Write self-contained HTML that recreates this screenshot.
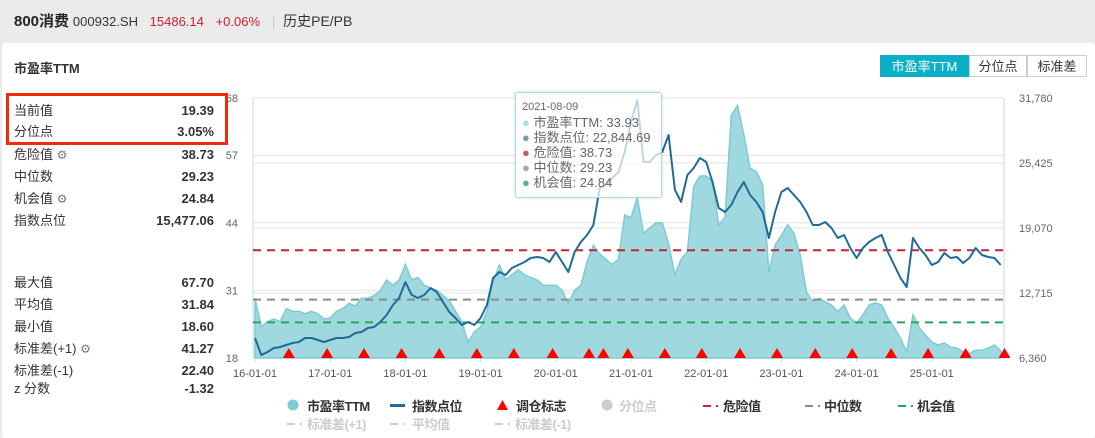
<!DOCTYPE html>
<html><head><meta charset="utf-8">
<style>
body{margin:0;width:1095px;height:438px;background:#ebebeb;font-family:"Liberation Sans","Noto Sans CJK SC",sans-serif;overflow:hidden;position:relative}
.hdr{position:absolute;left:14px;top:10px;font-size:14px;color:#333;white-space:nowrap}
.card{position:absolute;left:2px;top:43px;width:1093px;height:395px;background:#fff;border-radius:3px}
.row{position:absolute;left:14px;width:200px;height:18px;line-height:18px;font-size:13px;color:#333;display:flex;justify-content:space-between;align-items:center}
.row b{font-weight:bold}
.btn{position:absolute;top:55px;height:22px;line-height:22px;font-size:13px;text-align:center;border:1px solid #ccc;color:#333;box-sizing:border-box}
</style></head><body>
<div class="hdr"><b style="font-size:15px;color:#222">800消费</b> <span style="font-size:13px">000932.SH</span>&nbsp;&nbsp;&nbsp;<span style="color:#c7202a;font-size:13px">15486.14</span>&nbsp;&nbsp;&nbsp;<span style="color:#c7202a;font-size:13px">+0.06%</span>&nbsp;&nbsp;&nbsp;<span style="color:#ccc">|</span>&nbsp;&nbsp;<span>历史PE/PB</span></div>
<div class="card"></div>
<div style="position:absolute;left:14px;top:58px;font-size:13px;font-weight:bold;color:#333">市盈率TTM</div>
<div class="btn" style="left:880px;width:89px;background:#0ab0c8;border-color:#0ab0c8;color:#fff">市盈率TTM</div>
<div class="btn" style="left:969px;width:58px">分位点</div>
<div class="btn" style="left:1027px;width:60px">标准差</div>
<svg id="ch" width="1095" height="438" style="position:absolute;left:0;top:0"></svg>
<div style="position:absolute;left:6px;top:93px;width:216px;height:46px;border:3px solid #f22a0a;background:#fff"></div>
<div id="stats"></div>
<div style="position:absolute;left:515px;top:92px;width:147px;height:106px;background:rgba(255,255,255,0.72);border:1px solid #a8dde3;border-radius:3px;box-shadow:0 0 3px rgba(0,0,0,.15);font-size:13px;color:#666;line-height:15px;padding:7px 0 0 6px;box-sizing:border-box;white-space:nowrap">
<div style="font-size:11px">2021-08-09</div>
<div><span style="color:#a8dde3">●</span> 市盈率TTM: 33.93</div>
<div><span style="color:#6e9bbf">●</span> 指数点位: 22,844.69</div>
<div><span style="color:#d35a5a">●</span> 危险值: 38.73</div>
<div><span style="color:#aaa">●</span> 中位数: 29.23</div>
<div><span style="color:#4db88a">●</span> 机会值: 24.84</div>
</div>
<script>
const peValues=[29.5,24,25,25.5,25,27.5,27,27,26.5,27,26.5,25.5,
25.7,27,27.5,28.5,28,29.5,29.5,30,31,33,32,33,
36,33,33.5,32,31.5,31,30,29,27,25,21,23,
24,27,32.6,35.9,33,34,35,34,33.5,33,32,32,
32,31,28.5,31,32,36.5,39.7,38,37,36,37,45.5,
45,48.8,42,43,44,44,40,34,37,38.4,51,53,
53,52,43.6,45,64.7,66.6,61,54.5,53.8,51.3,34.5,39.7,
41.6,43.6,42,37.8,30.7,28.8,29.5,28.8,28.2,26.9,28.2,25.7,
24.7,26.3,28.2,28.6,28.2,25.7,23.8,21.8,19.2,26.3,23.8,22.4,
21.1,20.5,20.9,20.1,19.9,19.2,18.9,19.5,19.5,19.9,20.5,19.4];
const indexValues=[8315,6650,6950,7340,7430,7630,7825,7925,8315,8315,8120,7925,
8120,8315,8315,8410,8800,8900,9290,9390,9880,10560,11540,12225,
13790,12520,12225,12520,13200,12810,11835,10860,10270,9585,9880,9585,
10270,11540,14180,14770,14475,15160,15450,15745,16140,16235,16140,15745,
16725,15745,14770,16725,17700,18385,19360,22980,23270,23960,24545,26500,
29430,31585,25525,25525,26210,26500,28160,22800,21620,24250,24935,25915,
25525,23570,21025,20635,21320,22590,23570,22295,21620,20635,18090,20635,
22590,22980,22295,21620,20635,19360,19360,19655,19070,18090,18385,17115,
16140,17115,17700,18090,18385,16725,15450,14180,13300,18090,17115,16430,
15450,15745,16630,16140,16235,15650,16140,17115,16430,16235,16140,15450];
const rebalanceMonths=[5.4,11.5,17.4,23.4,29.4,35.4,41.3,47.5,53.3,55.6,59.5,65.4,71.3,77.4,83.3,89.4,95.3,101.5,107.4,113.4,119.6];
const leftTicks=[18,31,44,57,68];
const rightTicks=[6360,12715,19070,25425,31780];
const xTickLabels=['16-01-01','17-01-01','18-01-01','19-01-01','20-01-01','21-01-01','22-01-01','23-01-01','24-01-01','25-01-01'];
const danger=38.73, median=29.23, chance=24.84;
const stats=[['当前值','19.39',111],['分位点','3.05%',132],['危险值','38.73',155,1],['中位数','29.23',177],['机会值','24.84',199,1],['指数点位','15,477.06',221],
['最大值','67.70',283],['平均值','31.84',305],['最小值','18.60',327],['标准差(+1)','41.27',349,1],['标准差(-1)','22.40',371],['z 分数','-1.32',389]];

const X0=253,X1=1004,Y0=358,Y1=98;
const xm=m=>255+m*75.2/12;
const yl=v=>Y0-(v-18)/(68-18)*(Y0-Y1);
const yr=v=>Y0-(v-6360)/(31780-6360)*(Y0-Y1);
const svg=document.getElementById('ch');const NS='http://www.w3.org/2000/svg';
function mk(t,a,p){const e=document.createElementNS(NS,t);for(const k in a)e.setAttribute(k,a[k]);(p||svg).appendChild(e);return e;}
leftTicks.forEach(t=>{const g=mk('line',{x1:X0,x2:X1,y1:yl(t),y2:yl(t),stroke:'#e3e3e3'});


const tx=mk('text',{x:238,y:yl(t)+4,'text-anchor':'end','font-size':11,fill:'#666'});tx.textContent=t;

});
rightTicks.forEach(t=>{if(t>6360&&t<31780)mk('line',{x1:X0,x2:X1,y1:yr(t),y2:yr(t),stroke:'#e3e3e3'});
const tx=mk('text',{x:1019,y:yr(t)+4,'font-size':11,fill:'#666'});tx.textContent=t.toLocaleString('en-US');

});
mk('line',{x1:X0,x2:X0,y1:Y1,y2:Y0,stroke:'#c5d8e8'});mk('line',{x1:X1,x2:X1,y1:Y1,y2:Y0,stroke:'#c5d8e8'});
xTickLabels.forEach((l,i)=>{const x=xm(i*12);mk('line',{x1:x,x2:x,y1:Y0,y2:Y0+4,stroke:'#c5d8e8'});
const tx=mk('text',{x:x,y:377,'text-anchor':'middle','font-size':11,fill:'#555'});tx.textContent=l;

});
let d='M'+xm(0)+','+Y0;peValues.forEach((v,i)=>d+='L'+xm(i).toFixed(1)+','+yl(v).toFixed(1));d+='L'+xm(peValues.length-1)+','+Y0+'Z';
const ar=mk('path',{d:d,fill:'#9fd8de',stroke:'#7ecbd3','stroke-width':1.5});


[[danger,'#c8242c','danger-line'],[median,'#8a8a94','median-line'],[chance,'#27a660','chance-line']].forEach(r=>{
const l=mk('line',{x1:X0,x2:X1,y1:yl(r[0]),y2:yl(r[0]),stroke:r[1],'stroke-width':2,'stroke-dasharray':'8,6'});

});
let p='';indexValues.forEach((v,i)=>p+=(i?'L':'M')+xm(i).toFixed(1)+','+yr(v).toFixed(1));
const il=mk('path',{d:p,fill:'none',stroke:'#1f6a97','stroke-width':2,'stroke-linejoin':'round'});


rebalanceMonths.forEach(m=>{const x=xm(m);const t=mk('polygon',{points:`${x-6},${Y0} ${x+6},${Y0} ${x},${Y0-10}`,fill:'#f00'});

});
// legend: [iconX(left), y, shape, color, text, textColor, textX]
const lg=[[288,406,'circle','#7ecbd3','市盈率TTM','#333',307],[390,406,'line','#1f6a97','指数点位','#333',412],[497,406,'tri','#f00','调仓标志','#333',516],
[602,406,'circle','#ccc','分位点','#ccc',619],[703,406,'dash','#c8242c','危险值','#333',723],[805,406,'dash','#8a8a94','中位数','#333',824],[898,406,'dash','#27a660','机会值','#333',917],
[287,424,'dash','#ccc','标准差(+1)','#ccc',307],[390,424,'dash','#ccc','平均值','#ccc',412],[495,424,'dash','#ccc','标准差(-1)','#ccc',515]];
lg.forEach(g=>{const [x,y,s,c,t,tc,tx0]=g;
if(s=='circle')mk('circle',{cx:x+5,cy:y-1,r:5.5,fill:c});
if(s=='line')mk('rect',{x:x,y:y-2,width:15,height:3,fill:c});
if(s=='tri')mk('polygon',{points:`${x},${y+4} ${x+11},${y+4} ${x+5.5},${y-6}`,fill:c});
if(s=='dash'){mk('rect',{x:x,y:y-1,width:8,height:2,fill:c});mk('rect',{x:x+13,y:y-1,width:2,height:2,fill:c});}
const tx=mk('text',{x:tx0,y:y+5,'font-size':13,'font-weight':'bold',fill:tc,'letter-spacing':'-0.5'});tx.textContent=t;

});
const st=document.getElementById('stats');
stats.forEach(s=>{const r=document.createElement('div');r.className='row';r.style.top=(s[2]-9)+'px';
r.innerHTML='<span>'+s[0]+(s[3]?' <span style="color:#777;font-size:12px">⚙</span>':'')+'</span><b>'+s[1]+'</b>';


st.appendChild(r);});
</script>
</body></html>
